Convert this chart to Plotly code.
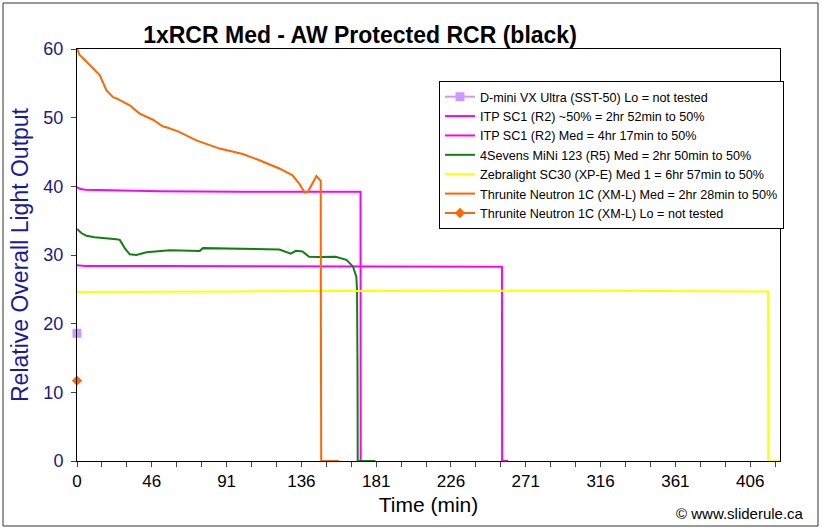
import plotly.graph_objects as go

# ---------------- data ----------------
title_text = "1xRCR Med - AW Protected RCR (black)"

dmini_t = [0]
dmini_v = [18.6]

itp50_t = [0, 2, 5, 20, 50, 100, 150, 171, 171.1, 172.5]
itp50_v = [39.9, 39.6, 39.5, 39.4, 39.3, 39.2, 39.2, 39.2, 0, 0]

itpmed_t = [0, 5, 50, 100, 150, 200, 256.3, 256.4, 260]
itpmed_v = [28.5, 28.4, 28.4, 28.4, 28.4, 28.4, 28.3, 0, 0]

sevens_t = [0, 2.6, 5.7, 10.7, 23.7, 25.8, 28.8, 31.8, 35.8, 41.9, 55.9, 74, 76, 92, 108,
            122, 129, 132, 136, 140, 146, 156, 162.5, 166.5, 168.5, 168.9, 169.2, 169.3, 180]
sevens_v = [33.8, 33.2, 32.8, 32.6, 32.3, 32.2, 31.0, 30.1, 30.0, 30.4, 30.7, 30.6, 31.0, 30.9, 30.8,
            30.8, 30.2, 30.6, 30.5, 29.75, 29.7, 29.75, 29.3, 28.3, 26.8, 24.9, 12.4, 0, 0]

zebra_t = [0, 50, 100, 150, 200, 250, 300, 350, 416.8, 416.9, 424]
zebra_v = [24.6, 24.7, 24.7, 24.75, 24.8, 24.85, 24.8, 24.75, 24.7, 0, 0]

thru_t = [0, 1.6, 2.6, 4.6, 10.7, 13.7, 17.7, 21.7, 23.8, 29.8, 31.8, 37.8, 39.8, 45.8, 51.9, 53.9,
          60.9, 72, 86, 100, 110, 122, 130, 134, 137.3, 139.3, 144.4, 147, 147.1, 147.3, 158]
thru_v = [60.1, 59.1, 58.9, 58.4, 57.0, 56.2, 54.0, 53.0, 52.8, 52.1, 51.8, 50.6, 50.4, 49.7, 48.7, 48.6,
          48.0, 46.7, 45.5, 44.7, 43.8, 42.6, 41.6, 40.4, 39.1, 39.2, 41.5, 40.8, 20.5, 0, 0]

thrulo_t = [0]
thrulo_v = [11.7]

x_tick_labels = ["0", "46", "91", "136", "181", "226", "271", "316", "361", "406"]

names = [
    "D-mini VX Ultra (SST-50) Lo = not tested",
    "ITP SC1 (R2) ~50% = 2hr 52min to 50%",
    "ITP SC1 (R2) Med = 4hr 17min to 50%",
    "4Sevens MiNi 123 (R5) Med = 2hr 50min to 50%",
    "Zebralight SC30 (XP-E) Med 1 = 6hr 57min to 50%",
    "Thrunite Neutron 1C (XM-L) Med = 2hr 28min to 50%",
    "Thrunite Neutron 1C (XM-L) Lo = not tested",
]

# ---------------- figure ----------------
FONT = "Arial, Liberation Sans, sans-serif"
fig = go.Figure()

fig.add_trace(go.Scatter(x=dmini_t, y=dmini_v, name=names[0], mode="lines+markers",
                         line=dict(color="#CC99FF", width=2), cliponaxis=False,
                         marker=dict(symbol="square", size=9, color="#CC99FF")))
fig.add_trace(go.Scatter(x=itp50_t, y=itp50_v, name=names[1], mode="lines",
                         line=dict(color="#FF00FF", width=2)))
fig.add_trace(go.Scatter(x=itpmed_t, y=itpmed_v, name=names[2], mode="lines",
                         line=dict(color="#FF00FF", width=2)))
fig.add_trace(go.Scatter(x=sevens_t, y=sevens_v, name=names[3], mode="lines",
                         line=dict(color="#108010", width=2)))
fig.add_trace(go.Scatter(x=zebra_t, y=zebra_v, name=names[4], mode="lines",
                         line=dict(color="#FFFF00", width=2)))
fig.add_trace(go.Scatter(x=thru_t, y=thru_v, name=names[5], mode="lines",
                         line=dict(color="#FF6600", width=2)))
fig.add_trace(go.Scatter(x=thrulo_t, y=thrulo_v, name=names[6], mode="lines+markers",
                         line=dict(color="#FF6600", width=2), cliponaxis=False,
                         marker=dict(symbol="diamond", size=8, color="#FF6600")))

# category-style x axis: one tick every 1/3 label step
step = 406 / 9
n_minor = 3
tickvals = [i * step / n_minor for i in range(0, 9 * n_minor + 2)]
ticktext = [x_tick_labels[i // n_minor] if (i % n_minor == 0 and i // n_minor < len(x_tick_labels)) else ""
            for i in range(len(tickvals))]

fig.update_layout(
    width=822, height=530,
    paper_bgcolor="white", plot_bgcolor="white",
    margin=dict(l=77, r=42, t=49, b=69, autoexpand=False),
    font=dict(family=FONT, color="black"),
    showlegend=True,
    legend=dict(x=(439 - 77) / 703, y=(461 - 81) / 412, xanchor="left", yanchor="top",
                bgcolor="white", bordercolor="black", borderwidth=1,
                font=dict(family=FONT, size=12.6, color="black"),
                tracegroupgap=0),
    title=dict(text="<b>" + title_text + "</b>", x=360 / 822, xanchor="center",
               y=1 - 35 / 530, yanchor="middle",
               font=dict(family=FONT, size=23, color="black")),
)

fig.update_xaxes(range=[0, 424], tickmode="array", tickvals=tickvals, ticktext=ticktext,
                 ticks="outside", ticklen=5, tickcolor="#444", tickwidth=1,
                 showline=True, linecolor="black", linewidth=1, mirror=True,
                 showgrid=False, zeroline=False, automargin=False,
                 tickfont=dict(family=FONT, size=17, color="black"),
                 title=dict(text="Time (min)", font=dict(family=FONT, size=21, color="black"), standoff=6))
fig.update_yaxes(range=[0, 60], dtick=10, ticks="outside", ticklen=5, tickcolor="#444", tickwidth=1,
                 showline=True, linecolor="black", linewidth=1, mirror=True,
                 showgrid=False, zeroline=False, automargin=False, ticklabelstandoff=4,
                 tickfont=dict(family=FONT, size=18, color="#1a1a80"),
                 title=dict(text="Relative Overall Light Output",
                            font=dict(family=FONT, size=23, color="#1a1a9a"), standoff=8))

fig.add_annotation(text="© www.sliderule.ca", xref="paper", yref="paper",
                   x=(806 - 77) / 703, y=-(513 - 461) / 412, xanchor="right", yanchor="middle",
                   showarrow=False, font=dict(family=FONT, size=15, color="black"))

# outer chart frame
fig.add_shape(type="rect", xref="paper", yref="paper",
              x0=-(77 - 3) / 703, x1=(818 - 77) / 703, y0=-(526 - 461) / 412, y1=(461 - 3) / 412,
              line=dict(color="#333", width=1), layer="below")

fig.write_html("out.html", config={"displayModeBar": False},
               post_script="document.body.style.margin='0';")
